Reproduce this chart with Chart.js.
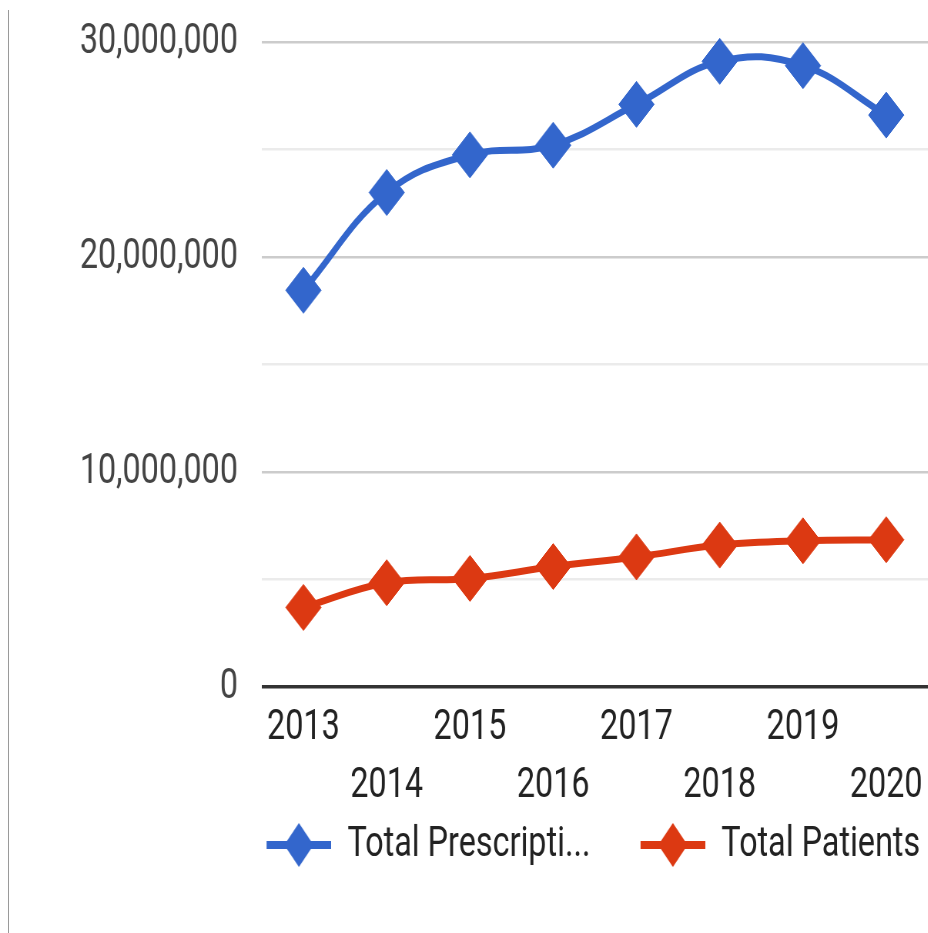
<!DOCTYPE html>
<html>
<head>
<meta charset="utf-8">
<script src="https://cdn.jsdelivr.net/npm/chart.js@4.4.1/dist/chart.umd.min.js"></script>
<style>
  html, body { margin: 0; padding: 0; background: #fff; overflow: hidden; }
  /* the reference is squeezed sideways, so the whole chart is drawn wide and scaled down */
  #frame { position: absolute; left: 0; top: 0; width: 1205px; height: 933px; transform: scaleX(0.77); transform-origin: 0 0; }
  #edge { position: absolute; left: 8px; top: 10px; bottom: 0; width: 1px; background: #9a9a9a; }
</style>
</head>
<body>
<div id="edge"></div>
<div id="frame"><canvas id="rxChart" width="1205" height="933"></canvas></div>
<script>
// 数据
const years = ['2013', '2014', '2015', '2016', '2017', '2018', '2019', '2020'];
const totalPrescriptions = [18450000, 23000000, 24750000, 25200000, 27100000, 29100000, 28900000, 26600000];
const totalPatients = [3700000, 4850000, 5050000, 5600000, 6050000, 6600000, 6800000, 6850000];
const seriesNames = ['Total Prescripti...', 'Total Patients'];
const seriesColors = ['#3366cc', '#dc3912'];
const yMax = 30000000;
const yStep = 5000000;
const yLabelStep = 10000000;

// 图例标记：左边留空 + 线段 + 菱形
const gap = 55;
function legendMarker(color) {
  const c = document.createElement('canvas');
  c.width = gap + 84; c.height = 48;
  const g = c.getContext('2d');
  g.fillStyle = color;
  g.fillRect(gap, 20, 84, 8);
  g.beginPath();
  g.moveTo(gap + 23, 24); g.lineTo(gap + 42, 2); g.lineTo(gap + 61, 24); g.lineTo(gap + 42, 46);
  g.closePath();
  g.fill();
  return c;
}
const markers = seriesColors.map(legendMarker);

function initChart() {
  const ctx = document.getElementById('rxChart').getContext('2d');
  new Chart(ctx, {
    type: 'line',
    data: {
      labels: years,
      datasets: [{
        label: seriesNames[0],
        data: totalPrescriptions,
        borderColor: seriesColors[0],
        backgroundColor: seriesColors[0],
        borderWidth: 7,
        tension: 0.4,
        pointStyle: 'rectRot',
        pointRadius: 23,
        pointBorderWidth: 1,
        clip: false
      }, {
        label: seriesNames[1],
        data: totalPatients,
        borderColor: seriesColors[1],
        backgroundColor: seriesColors[1],
        borderWidth: 7,
        tension: 0.4,
        pointStyle: 'rectRot',
        pointRadius: 23,
        pointBorderWidth: 1,
        clip: false
      }]
    },
    options: {
      responsive: false,
      animation: false,
      layout: { autoPadding: false, padding: { top: 42, left: 0, right: 0, bottom: 57 } },
      scales: {
        x: {
          offset: true,
          grid: { display: false, drawTicks: false },
          border: { display: false },
          ticks: {
            autoSkip: false,
            maxRotation: 0,
            padding: 13,
            color: '#222',
            font: { family: 'Roboto', size: 42, lineHeight: 1.38 },
            callback: (v, i) => (i % 2 ? ['', years[i]] : years[i])
          },
          afterFit: (s) => { s.height = 127; s.paddingLeft = 0; s.paddingRight = 0; }
        },
        y: {
          min: 0,
          max: yMax,
          border: { display: false },
          grid: {
            drawTicks: false,
            color: (c) => c.tick.value === 0 ? '#333' : (c.tick.value % yLabelStep === 0 ? '#cccccc' : '#ebebeb'),
            lineWidth: (c) => c.tick.value === 0 ? 3.5 : 2.5
          },
          ticks: {
            stepSize: yStep,
            padding: 31,
            color: '#444',
            font: { family: 'Roboto', size: 42 },
            callback: (v) => (v % yLabelStep === 0 ? v.toLocaleString('en-US') : '')
          },
          afterFit: (s) => { s.width = 340; s.paddingTop = 0; s.paddingBottom = 0; }
        }
      },
      plugins: {
        legend: {
          position: 'bottom',
          align: 'end',
          labels: {
            usePointStyle: true,
            pointStyleWidth: gap + 84,
            padding: 10,
            color: '#222',
            font: { family: 'Roboto', size: 42 },
            generateLabels: (chart) => {
              const items = Chart.defaults.plugins.legend.labels.generateLabels(chart);
              items.forEach((it, i) => { it.pointStyle = markers[i]; });
              return items;
            }
          }
        },
        tooltip: { enabled: false }
      }
    }
  });
}

document.addEventListener('DOMContentLoaded', initChart);
</script>
</body>
</html>
